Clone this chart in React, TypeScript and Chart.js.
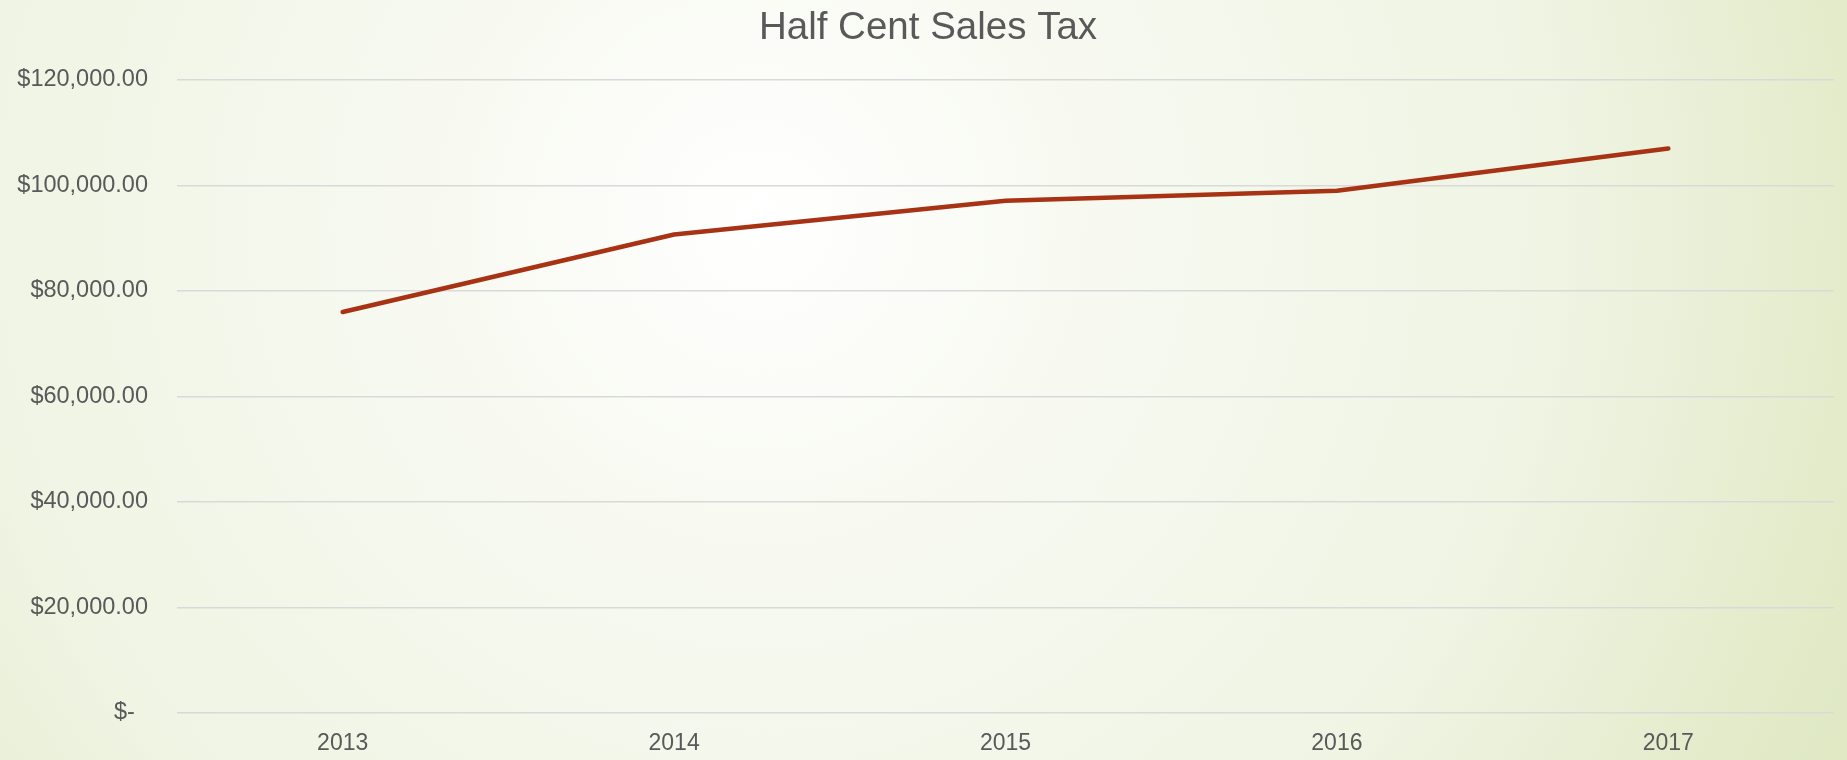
import React, { useEffect, useRef } from "react";
import { Chart, registerables } from "chart.js";

Chart.register(...registerables);

const chartTitle = "Half Cent Sales Tax";
const years = ["2013", "2014", "2015", "2016", "2017"];
const salesTax = [76000, 90700, 97100, 99000, 107000];
const yMin = 0;
const yMax = 120000;
const yStep = 20000;

const FONT = "'Liberation Sans', Arial, sans-serif";
const TEXT = "#595959";

function formatMoney(v: number): string {
  if (v === 0) return "$-  ";
  return "$" + v.toLocaleString("en-US", { minimumFractionDigits: 2, maximumFractionDigits: 2 });
}

// Centre the title over the whole slide width (as in the reference)
const titleCentering = {
  id: "titleCentering",
  afterLayout(chart: any) {
    const t = chart.titleBlock;
    if (t) {
      t.left = 22;
      t.right = chart.width - 13;
    }
  },
};

export default function App() {
  const ref = useRef<HTMLCanvasElement | null>(null);

  useEffect(() => {
    if (!ref.current) return;
    const chart = new Chart(ref.current, {
      type: "line",
      data: {
        labels: years,
        datasets: [
          {
            label: chartTitle,
            data: salesTax,
            borderColor: "#a83214",
            backgroundColor: "#a83214",
            borderWidth: 4.6,
            borderCapStyle: "round",
            borderJoinStyle: "round",
            pointRadius: 0,
            pointHoverRadius: 0,
            tension: 0,
            fill: false,
          },
        ],
      },
      plugins: [titleCentering],
      options: {
        responsive: false,
        animation: false,
        layout: { padding: { left: 0, right: 13, top: 0, bottom: 0 } },
        plugins: {
          legend: { display: false },
          tooltip: { enabled: false },
          title: {
            display: true,
            text: chartTitle,
            color: TEXT,
            font: { family: FONT, size: 38.5, weight: "normal" },
            padding: { top: 5, bottom: 28.8 },
          },
        },
        scales: {
          x: {
            offset: true,
            grid: { display: false, drawTicks: false },
            border: { display: false },
            ticks: {
              color: TEXT,
              font: { family: FONT, size: 23 },
              padding: 17,
            },
            afterFit: (scale: any) => {
              scale.height = 47.3;
            },
          },
          y: {
            min: yMin,
            max: yMax,
            grid: { color: "#d9d9d9", lineWidth: 1.5, drawTicks: false },
            border: { display: false },
            ticks: {
              stepSize: yStep,
              color: TEXT,
              font: { family: FONT, size: 23.5 },
              padding: 29,
              callback: (v: any) => formatMoney(Number(v)),
            },
            afterFit: (scale: any) => {
              scale.width = 177;
            },
          },
        },
      },
    });
    return () => chart.destroy();
  }, []);

  return (
    <div
      style={{
        position: "fixed",
        left: 0,
        top: 0,
        width: 1847,
        height: 760,
        background:
          "radial-gradient(circle at 760px 220px, #ffffff 0px, #f8faf2 300px, #eff4e3 800px, #e3ebca 1100px, #dce6bd 1300px)",
      }}
    >
      <canvas ref={ref} width={1847} height={760} style={{ display: "block" }} />
    </div>
  );
}
